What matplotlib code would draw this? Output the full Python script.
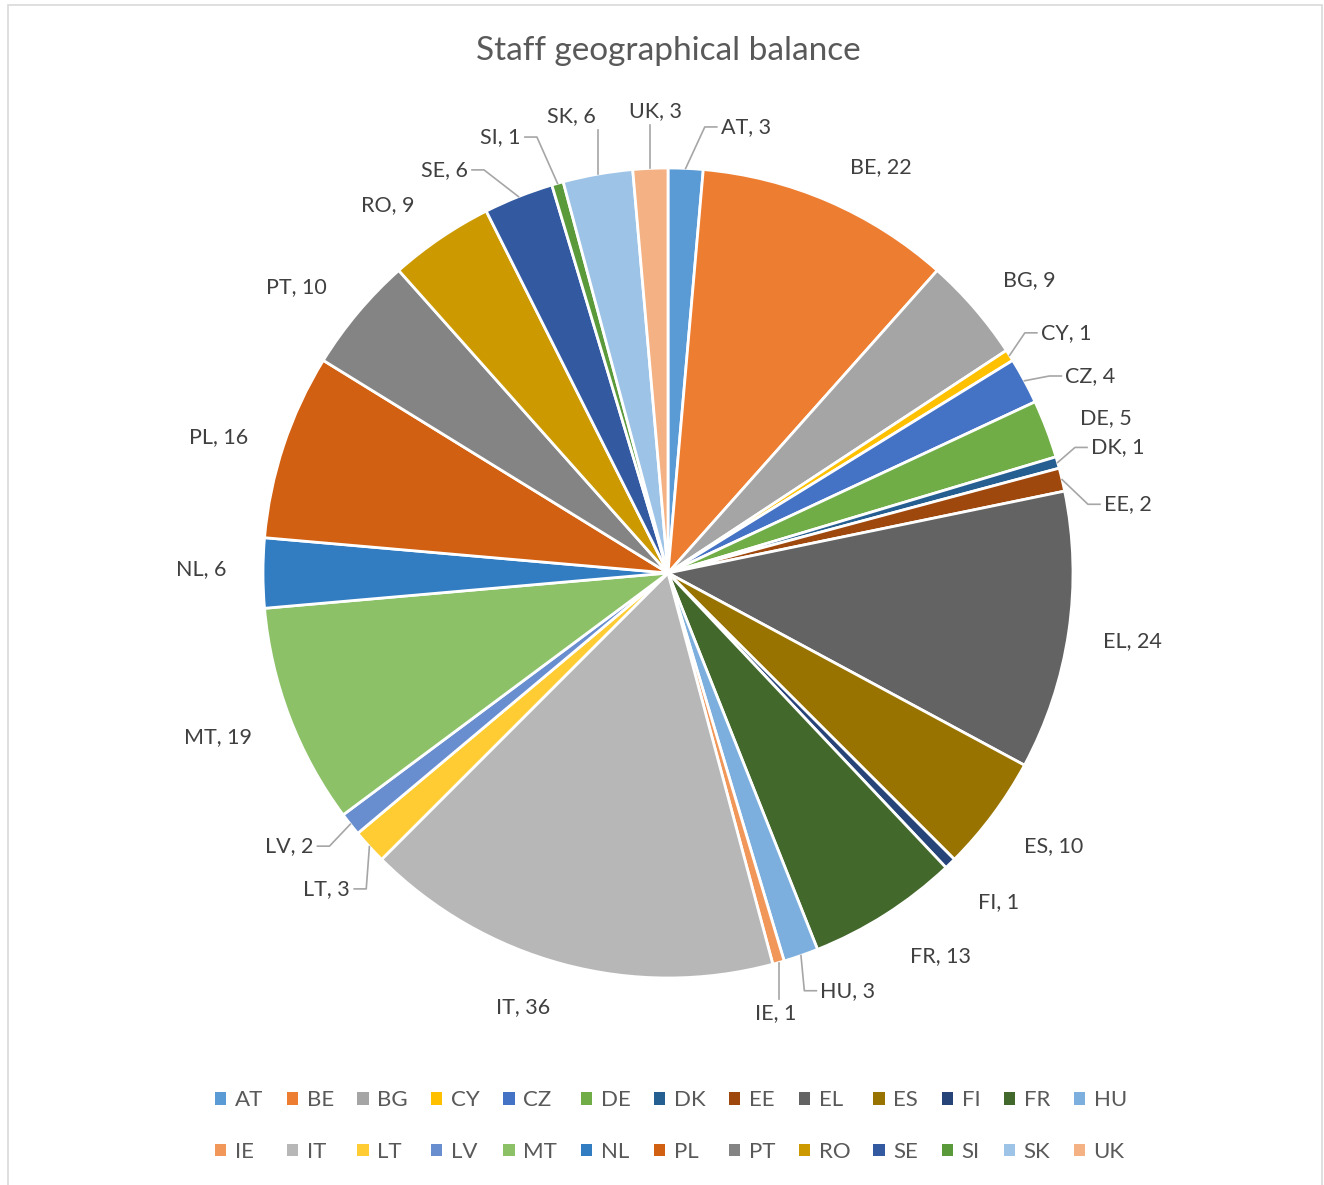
import matplotlib
matplotlib.use("Agg")
import matplotlib.pyplot as plt
from matplotlib.patches import Patch, Rectangle
import numpy as np

# ---------------- data ----------------
countries = ["AT", "BE", "BG", "CY", "CZ", "DE", "DK", "EE", "EL", "ES", "FI", "FR", "HU",
             "IE", "IT", "LT", "LV", "MT", "NL", "PL", "PT", "RO", "SE", "SI", "SK", "UK"]
staff = [3, 22, 9, 1, 4, 5, 1, 2, 24, 10, 1, 13, 3,
         1, 36, 3, 2, 19, 6, 16, 10, 9, 6, 1, 6, 3]
colors = ["#5B9BD5", "#ED7D31", "#A5A5A5", "#FFC000", "#4472C4", "#70AD47", "#255E91",
          "#9E480E", "#636363", "#997300", "#264478", "#43682B", "#7CAFDD",
          "#F1975A", "#B7B7B7", "#FFCD33", "#698ED0", "#8CC168", "#327DC2", "#D26012",
          "#848484", "#CC9A00", "#335AA1", "#5A9A3A", "#9DC3E6", "#F4B183"]
title = "Staff geographical balance"

# ---------------- layout (label placement: angle from top clockwise, radius) ----------------
label_pos = {
    "AT": (9.9, 1.118), "BE": (27.7, 1.131), "BG": (51.0, 1.148), "CY": (58.9, 1.148),
    "CZ": (65.0, 1.151), "DE": (70.5, 1.146), "DK": (74.4, 1.153), "EE": (81.5, 1.148),
    "EL": (98.3, 1.160), "ES": (125.3, 1.168), "FI": (134.9, 1.151), "FR": (144.6, 1.160),
    "HU": (156.7, 1.123), "IE": (166.3, 1.119), "IT": (198.5, 1.131), "LT": (227.2, 1.148),
    "LV": (234.2, 1.153), "MT": (250.0, 1.183), "NL": (270.5, 1.153), "PL": (286.8, 1.160),
    "PT": (307.6, 1.158), "RO": (322.7, 1.141), "SE": (331.0, 1.138), "SI": (339.0, 1.153),
    "SK": (348.0, 1.153), "UK": (358.4, 1.141),
}
leader_set = {"AT", "CY", "CZ", "DK", "EE", "HU", "IE", "LT", "LV", "SE", "SI", "SK", "UK"}

FONT = ["Lato", "DejaVu Sans"]
plt.rcParams["font.family"] = FONT

W, H = 1324, 1185
fig = plt.figure(figsize=(W / 100, H / 100), dpi=100)
fig.patch.set_facecolor("white")

# outer chart border (bottom edge lies below the canvas)
fig.add_artist(Rectangle((8 / W, -0.02), (1322 - 8) / W, 1.02 - 5 / H, transform=fig.transFigure,
                         fill=False, edgecolor="#D9D9D9", linewidth=1.2))

cx, cy, R = 668, 573, 405
lim = 1.3
aw = 2 * lim * R
ax = fig.add_axes([(cx - aw / 2) / W, (H - cy - aw / 2) / H, aw / W, aw / H])

wedges, _ = ax.pie(staff, colors=colors, startangle=90, counterclock=False,
                   wedgeprops=dict(edgecolor="white", linewidth=2.0), radius=1.0)
ax.set_xlim(-lim, lim)
ax.set_ylim(-lim, lim)
ax.set_aspect("auto")
ax.axis("off")

fig.text(cx / W, 1 - 51 / H, title, ha="center", va="center", fontsize=24, color="#595959",
         family=FONT)

total = float(sum(staff))
texts = {}
mids = {}
cum = 0.0
for c, v in zip(countries, staff):
    mid = (cum + v / 2) / total * 360.0
    cum += v
    mids[c] = mid
    a, r = label_pos[c]
    x = r * np.sin(np.radians(a))
    y = r * np.cos(np.radians(a))
    texts[c] = ax.text(x, y, f"{c}, {v}", ha="center", va="center", fontsize=15.5,
                       color="#404040", family=FONT)

fig.canvas.draw()
renderer = fig.canvas.get_renderer()
inv = ax.transData.inverted()
for c in countries:
    if c not in leader_set:
        continue
    m = np.radians(mids[c])
    E = ax.transData.transform((np.sin(m), np.cos(m)))
    bb = texts[c].get_window_extent(renderer)
    gap = 4
    if bb.x0 - gap <= E[0] <= bb.x1 + gap:
        yend = bb.y0 - gap if E[1] < bb.y0 else bb.y1 + gap
        pts = [E, (E[0], yend)]
    elif E[0] < bb.x0:
        P = (bb.x0 - gap, (bb.y0 + bb.y1) / 2)
        Q = (P[0] - 12, P[1])
        pts = [E, Q, P]
    else:
        P = (bb.x1 + gap, (bb.y0 + bb.y1) / 2)
        Q = (P[0] + 12, P[1])
        pts = [E, Q, P]
    d = inv.transform(np.array(pts))
    ax.plot(d[:, 0], d[:, 1], color="#A6A6A6", linewidth=1.2, clip_on=False)

# legend: row-wise order (13 per row) -> matplotlib fills column-wise
ncol = 13
order = []
for col in range(ncol):
    for row in range(2):
        idx = row * ncol + col
        if idx < len(countries):
            order.append(idx)
handles = [Patch(facecolor=colors[i], edgecolor="none") for i in order]
labels = [countries[i] for i in order]
fig.legend(handles, labels, ncol=ncol, loc="center", bbox_to_anchor=(671 / W, 1 - 1126 / H),
           frameon=False, handlelength=0.5, handleheight=0.5,
           handletextpad=0.4, columnspacing=1.05, labelspacing=1.42,
           prop=dict(family=FONT, size=16), labelcolor="#595959")

fig.savefig("out.png", dpi=100, facecolor="white")
